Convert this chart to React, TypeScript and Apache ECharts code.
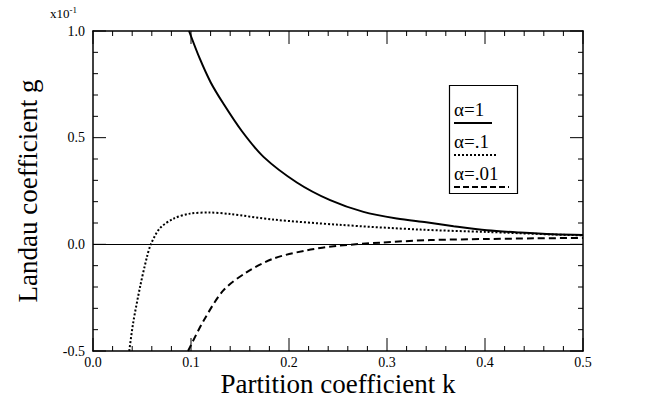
import React, { useEffect, useRef } from "react";
import * as echarts from "echarts";

const xTicks = ["0.0", "0.1", "0.2", "0.3", "0.4", "0.5"];
const yTicks = ["-0.5", "0.0", "0.5", "1.0"];

const xMajorTicks = [0, 0.1, 0.2, 0.3, 0.4, 0.5];
const xMinorTicks = [0.02, 0.04, 0.06, 0.08, 0.12, 0.14, 0.16, 0.18, 0.22, 0.24, 0.26, 0.28, 0.32, 0.34, 0.36, 0.38, 0.42, 0.44, 0.46, 0.48];
const yMajorTicks = [-0.5, 0, 0.5, 1.0];
const yMinorTicks = [-0.4, -0.3, -0.2, -0.1, 0.1, 0.2, 0.3, 0.4, 0.6, 0.7, 0.8, 0.9];

const kA1 = [0.098, 0.109, 0.12, 0.133, 0.152, 0.174, 0.208, 0.242, 0.276, 0.31, 0.34, 0.368, 0.402, 0.436, 0.47, 0.5];
const gA1 = [1.0, 0.87, 0.76, 0.66, 0.53, 0.41, 0.29, 0.207, 0.152, 0.121, 0.103, 0.085, 0.066, 0.055, 0.047, 0.044];

const kA01 = [0.037, 0.041, 0.048, 0.055, 0.059, 0.068, 0.082, 0.099, 0.119, 0.14, 0.184, 0.25, 0.334, 0.402, 0.47, 0.5];
const gA01 = [-0.5, -0.368, -0.2, -0.06, 0.0, 0.074, 0.12, 0.144, 0.149, 0.142, 0.116, 0.092, 0.069, 0.058, 0.046, 0.042];

const kA001 = [0.097, 0.113, 0.133, 0.157, 0.184, 0.218, 0.25, 0.293, 0.344, 0.402, 0.45, 0.5];
const gA001 = [-0.5, -0.357, -0.216, -0.13, -0.067, -0.028, -0.007, 0.008, 0.02, 0.025, 0.028, 0.03];

const legendLabels = ["α=1", "α=.1", "α=.01"];

const FONT = "'Liberation Serif', 'DejaVu Serif', serif";

const X_MIN = 0;
const X_MAX = 0.5;
const Y_MIN = -0.5;
const Y_MAX = 1.0;
const MAJOR_LEN = 13;
const MINOR_LEN = 5;

const zip = (xs: number[], ys: number[]) => xs.map((x, i) => [x, ys[i]]);

export default function App() {
  const ref = useRef<HTMLDivElement>(null);
  useEffect(() => {
    if (!ref.current) return;
    const chart = echarts.init(ref.current, undefined, { renderer: "svg" });

    const makeAxis = (extra: any) => ({
      type: "value",
      axisLine: { show: true, onZero: false, lineStyle: { color: "#000", width: 1.5 } },
      axisTick: { show: false },
      minorTick: { show: false },
      splitLine: { show: false },
      ...extra,
    });

    const lineSeries = (name: string, data: number[][], type: any) => ({
      type: "line",
      name,
      data,
      smooth: 0.3,
      showSymbol: false,
      symbol: "none",
      clip: true,
      lineStyle: { color: "#000", width: 2, type },
    });

    const xTickData = [
      ...xMajorTicks.map((v) => [v, 1]),
      ...xMinorTicks.map((v) => [v, 0]),
    ];
    const yTickData = [
      ...yMajorTicks.map((v) => [X_MIN, v, 1]),
      ...yMinorTicks.map((v) => [X_MIN, v, 0]),
    ];

    const tickStyle = { stroke: "#000", lineWidth: 1 };

    chart.setOption({
      animation: false,
      backgroundColor: "#fff",
      grid: { left: 93, right: 67, top: 31, bottom: 47, outerBoundsMode: "none", containLabel: false },
      xAxis: [
        makeAxis({
          min: X_MIN,
          max: X_MAX,
          interval: 0.1,
          position: "bottom",
          axisLabel: {
            color: "#000",
            fontFamily: FONT,
            fontSize: 14,
            margin: 4,
            formatter: (v: number) => xTicks[Math.round(v * 10)] ?? v.toFixed(1),
          },
          name: "Partition coefficient k",
          nameLocation: "middle",
          nameGap: 19,
          nameMoveOverlap: false,
          nameTextStyle: { color: "#000", fontFamily: FONT, fontSize: 27 },
        }),
        makeAxis({ min: X_MIN, max: X_MAX, interval: 0.1, position: "top", axisLabel: { show: false } }),
      ],
      yAxis: [
        makeAxis({
          min: Y_MIN,
          max: Y_MAX,
          interval: 0.5,
          position: "left",
          axisLabel: {
            color: "#000",
            fontFamily: FONT,
            fontSize: 14,
            margin: 8,
            formatter: (v: number) => yTicks[Math.round((v + 0.5) * 2)] ?? v.toFixed(1),
          },
          name: "Landau coefficient g",
          nameLocation: "middle",
          nameGap: 52,
          nameMoveOverlap: false,
          nameTextStyle: { color: "#000", fontFamily: FONT, fontSize: 27 },
        }),
        makeAxis({ min: Y_MIN, max: Y_MAX, interval: 0.5, position: "right", axisLabel: { show: false } }),
      ],
      series: [
        {
          ...lineSeries(legendLabels[0], zip(kA1, gA1), "solid"),
          markLine: {
            silent: true,
            symbol: "none",
            label: { show: false },
            lineStyle: { color: "#000", width: 1, type: "solid" },
            data: [{ yAxis: 0 }],
          },
        },
        lineSeries(legendLabels[1], zip(kA01, gA01), [2, 2]),
        lineSeries(legendLabels[2], zip(kA001, gA001), [7, 4]),
        {
          type: "custom",
          name: "xticks",
          silent: true,
          clip: false,
          encode: { x: 0, y: 1 },
          data: xTickData,
          renderItem: (_p: any, api: any) => {
            const v = api.value(0);
            const len = api.value(1) ? MAJOR_LEN : MINOR_LEN;
            const b = api.coord([v, Y_MIN]);
            const t = api.coord([v, Y_MAX]);
            return {
              type: "group",
              children: [
                { type: "line", shape: { x1: b[0], y1: b[1], x2: b[0], y2: b[1] - len }, style: tickStyle },
                { type: "line", shape: { x1: t[0], y1: t[1], x2: t[0], y2: t[1] + len }, style: tickStyle },
              ],
            };
          },
        },
        {
          type: "custom",
          name: "yticks",
          silent: true,
          clip: false,
          encode: { x: 0, y: 1 },
          data: yTickData,
          renderItem: (_p: any, api: any) => {
            const v = api.value(1);
            const len = api.value(2) ? MAJOR_LEN : MINOR_LEN;
            const l = api.coord([X_MIN, v]);
            const r = api.coord([X_MAX, v]);
            return {
              type: "group",
              children: [
                { type: "line", shape: { x1: l[0], y1: l[1], x2: l[0] + len, y2: l[1] }, style: tickStyle },
                { type: "line", shape: { x1: r[0], y1: r[1], x2: r[0] - len, y2: r[1] }, style: tickStyle },
              ],
            };
          },
        },
      ],
      graphic: [
        {
          type: "text",
          left: 50,
          top: 5,
          style: {
            text: "{a|x10}{b|-1}",
            rich: {
              a: { fontFamily: FONT, fontSize: 13, fill: "#000", verticalAlign: "bottom" },
              b: { fontFamily: FONT, fontSize: 9, fill: "#000", verticalAlign: "top", padding: [0, 0, 6, 0] },
            },
          },
        },
        {
          type: "rect",
          shape: { x: 449.5, y: 85.5, width: 68, height: 108 },
          style: { fill: "#fff", stroke: "#000", lineWidth: 1.2 },
          z: 10,
        },
        {
          type: "text",
          x: 454,
          y: 109,
          style: { text: legendLabels[0], fontFamily: FONT, fontSize: 19, fill: "#000", verticalAlign: "middle" },
          z: 11,
        },
        {
          type: "line",
          shape: { x1: 454, y1: 123, x2: 492, y2: 123 },
          style: { stroke: "#000", lineWidth: 2 },
          z: 11,
        },
        {
          type: "text",
          x: 454,
          y: 141,
          style: { text: legendLabels[1], fontFamily: FONT, fontSize: 19, fill: "#000", verticalAlign: "middle" },
          z: 11,
        },
        {
          type: "line",
          shape: { x1: 454, y1: 155, x2: 497, y2: 155 },
          style: { stroke: "#000", lineWidth: 2, lineDash: [2, 2] },
          z: 11,
        },
        {
          type: "text",
          x: 454,
          y: 173,
          style: { text: legendLabels[2], fontFamily: FONT, fontSize: 19, fill: "#000", verticalAlign: "middle" },
          z: 11,
        },
        {
          type: "line",
          shape: { x1: 454, y1: 187, x2: 509, y2: 187 },
          style: { stroke: "#000", lineWidth: 2, lineDash: [6, 3] },
          z: 11,
        },
      ],
    });
    return () => chart.dispose();
  }, []);
  return <div ref={ref} style={{ position: "absolute", left: 0, top: 0, width: 650, height: 398 }} />;
}
